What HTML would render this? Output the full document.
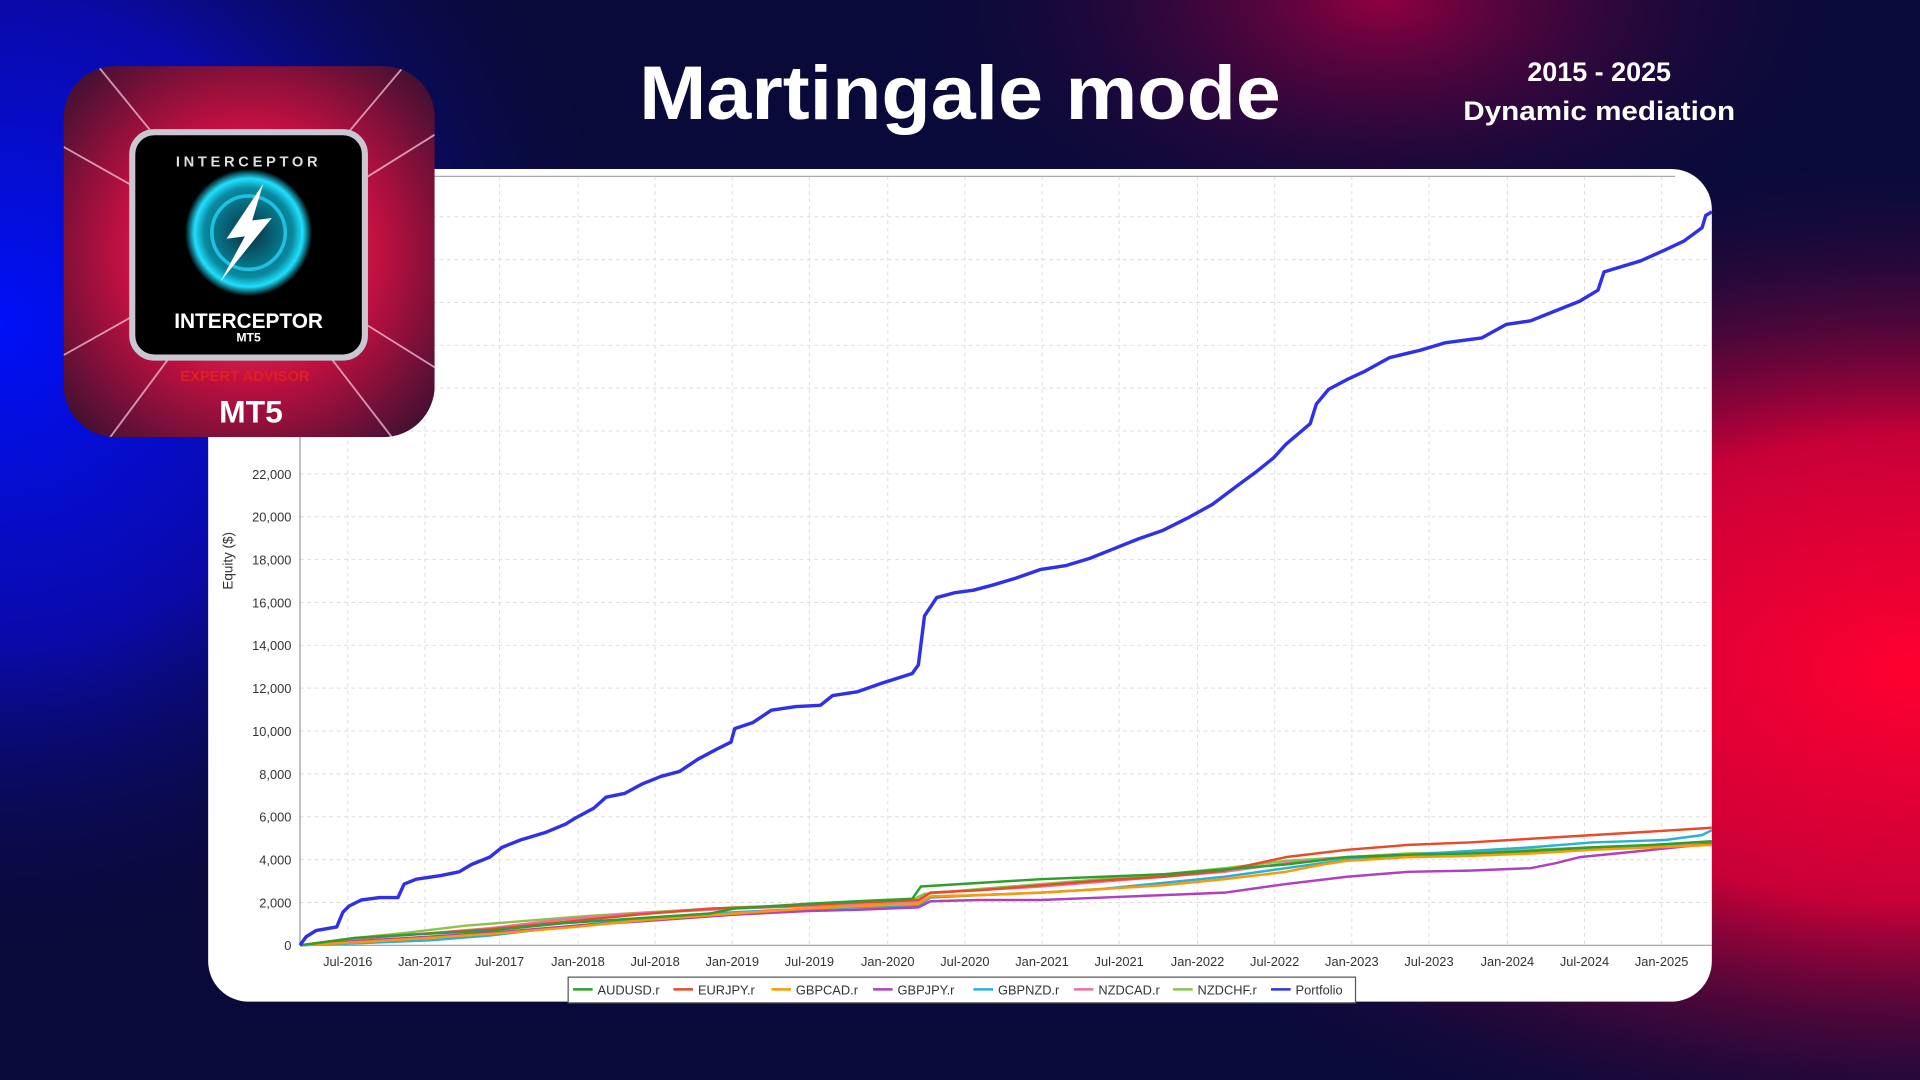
<!DOCTYPE html>
<html><head><meta charset="utf-8"><style>
html,body{margin:0;padding:0;width:1920px;height:1080px;overflow:hidden;background:#0a0a3a}
svg{display:block}
text{font-family:"Liberation Sans",sans-serif}
</style></head><body>
<svg width="1920" height="1080" viewBox="0 0 1568 882" xmlns="http://www.w3.org/2000/svg">
<defs>
<radialGradient id="gb" cx="0" cy="0.3" r="0.6" gradientTransform="scale(0.55,1)">
<stop offset="0" stop-color="#0010f8"/><stop offset="0.5" stop-color="#0a0aa8"/><stop offset="1" stop-color="#0a0a3a" stop-opacity="0"/></radialGradient>
<radialGradient id="gr" cx="1" cy="0.62" r="0.48">
<stop offset="0" stop-color="#ff0030"/><stop offset="0.45" stop-color="#c80038"/><stop offset="1" stop-color="#0a0a3a" stop-opacity="0"/></radialGradient>
<radialGradient id="gr2" cx="0.72" cy="0" r="0.25">
<stop offset="0" stop-color="#900040"/><stop offset="1" stop-color="#0a0a3a" stop-opacity="0"/></radialGradient>
<radialGradient id="lg" cx="0.5" cy="0.5" r="0.7">
<stop offset="0" stop-color="#ff5080"/><stop offset="0.5" stop-color="#c01040"/><stop offset="1" stop-color="#301030"/></radialGradient>
<radialGradient id="ring" cx="0.5" cy="0.5" r="0.5">
<stop offset="0" stop-color="#053040"/><stop offset="0.7" stop-color="#0a8aa0"/><stop offset="0.85" stop-color="#20e0ff"/><stop offset="1" stop-color="#000"/></radialGradient>
<clipPath id="logo"><rect x="52" y="54" width="303" height="303" rx="42"/></clipPath>
</defs>
<rect width="1568" height="882" fill="#0a0a3a"/>
<rect width="1568" height="882" fill="url(#gb)"/>
<rect width="1568" height="882" fill="url(#gr2)"/>
<rect width="1568" height="882" fill="url(#gr)"/>

<!-- card -->
<rect x="170" y="138" width="1228" height="680" rx="33" fill="#fff"/>
<g stroke="#ddd" stroke-width="0.8" stroke-dasharray="3,3">
<line x1="245" y1="737" x2="1398" y2="737"/><line x1="245" y1="702" x2="1398" y2="702"/><line x1="245" y1="667" x2="1398" y2="667"/><line x1="245" y1="632" x2="1398" y2="632"/><line x1="245" y1="597" x2="1398" y2="597"/><line x1="245" y1="562" x2="1398" y2="562"/><line x1="245" y1="527" x2="1398" y2="527"/><line x1="245" y1="492" x2="1398" y2="492"/><line x1="245" y1="457" x2="1398" y2="457"/><line x1="245" y1="422" x2="1398" y2="422"/><line x1="245" y1="387" x2="1398" y2="387"/><line x1="245" y1="352" x2="1398" y2="352"/><line x1="245" y1="317" x2="1398" y2="317"/><line x1="245" y1="282" x2="1398" y2="282"/><line x1="245" y1="247" x2="1398" y2="247"/><line x1="245" y1="212" x2="1398" y2="212"/><line x1="245" y1="177" x2="1390" y2="177"/>
</g>
<g stroke="#ddd" stroke-width="0.8" stroke-dasharray="3,3">
<line x1="284" y1="144" x2="284" y2="772"/><line x1="347" y1="144" x2="347" y2="772"/><line x1="408" y1="144" x2="408" y2="772"/><line x1="472" y1="144" x2="472" y2="772"/><line x1="535" y1="144" x2="535" y2="772"/><line x1="598" y1="144" x2="598" y2="772"/><line x1="661" y1="144" x2="661" y2="772"/><line x1="725" y1="144" x2="725" y2="772"/><line x1="788" y1="144" x2="788" y2="772"/><line x1="851" y1="144" x2="851" y2="772"/><line x1="914" y1="144" x2="914" y2="772"/><line x1="978" y1="144" x2="978" y2="772"/><line x1="1041" y1="144" x2="1041" y2="772"/><line x1="1104" y1="144" x2="1104" y2="772"/><line x1="1167" y1="144" x2="1167" y2="772"/><line x1="1231" y1="144" x2="1231" y2="772"/><line x1="1294" y1="144" x2="1294" y2="772"/><line x1="1357" y1="144" x2="1357" y2="772"/>
</g>
<line x1="245" y1="144" x2="1368" y2="144" stroke="#aaa" stroke-width="1"/>
<line x1="245" y1="144" x2="245" y2="772" stroke="#999" stroke-width="1"/>
<line x1="245" y1="772" x2="1398" y2="772" stroke="#999" stroke-width="1"/>

<g font-size="10.5" fill="#333" text-anchor="end">
<text x="238" y="776">0</text><text x="238" y="741">2,000</text><text x="238" y="706">4,000</text><text x="238" y="671">6,000</text><text x="238" y="636">8,000</text><text x="238" y="601">10,000</text><text x="238" y="566">12,000</text><text x="238" y="531">14,000</text><text x="238" y="496">16,000</text><text x="238" y="461">18,000</text><text x="238" y="426">20,000</text><text x="238" y="391">22,000</text>
</g>
<text x="190" y="458" font-size="11" fill="#333" text-anchor="middle" transform="rotate(-90 190 458)">Equity ($)</text>
<g font-size="10.5" fill="#333" text-anchor="middle">
<text x="284" y="789">Jul-2016</text><text x="347" y="789">Jan-2017</text><text x="408" y="789">Jul-2017</text><text x="472" y="789">Jan-2018</text><text x="535" y="789">Jul-2018</text><text x="598" y="789">Jan-2019</text><text x="661" y="789">Jul-2019</text><text x="725" y="789">Jan-2020</text><text x="788" y="789">Jul-2020</text><text x="851" y="789">Jan-2021</text><text x="914" y="789">Jul-2021</text><text x="978" y="789">Jan-2022</text><text x="1041" y="789">Jul-2022</text><text x="1104" y="789">Jan-2023</text><text x="1167" y="789">Jul-2023</text><text x="1231" y="789">Jan-2024</text><text x="1294" y="789">Jul-2024</text><text x="1357" y="789">Jan-2025</text>
</g>

<!-- pair series -->
<g fill="none" stroke-width="2" stroke-linejoin="round">
<polyline stroke="#8bc34a" points="245,772 290,766 330,762 380,756 430,752 480,748 530,745 600,741 660,739 700,738 745,735 755,730 800,726 850,722 900,718 950,714 1000,709 1050,703 1100,700 1150,697 1200,696 1250,694 1300,692 1350,690 1398,688"/>
<polyline stroke="#ef6fa0" points="245,772 290,767 340,763 400,758 460,751 520,746 600,742 660,740 720,738 750,736 760,729 800,727 850,724 900,720 950,716 1000,712 1050,705 1100,700 1150,698 1200,697 1250,695 1300,692 1350,691 1398,690"/>
<polyline stroke="#29b0d8" points="245,772 300,770 350,768 400,764 460,757 520,751 580,746 640,743 700,741 750,740 760,733 800,731 850,729 900,726 950,721 1000,716 1050,709 1100,702 1150,698 1200,695 1250,692 1300,688 1360,686 1390,682 1398,678"/>
<polyline stroke="#b040c0" points="245,772 300,768 350,765 410,761 470,756 530,752 600,747 660,744 700,743 750,741 760,736 800,735 850,735 900,733 950,731 1000,729 1050,722 1100,716 1150,712 1200,711 1250,709 1270,705 1290,700 1330,696 1398,689"/>
<polyline stroke="#ff9800" points="245,772 300,769 350,766 410,762 470,757 530,751 600,746 660,742 700,740 750,738 760,732 800,731 850,729 900,726 950,723 1000,718 1050,712 1080,706 1100,703 1150,700 1200,699 1250,697 1300,694 1350,692 1398,690"/>
<polyline stroke="#e84a2a" points="245,772 290,766 340,763 400,759 460,753 520,747 580,742 640,740 700,737 750,735 760,729 800,727 850,723 900,719 950,716 1000,711 1050,700 1100,694 1150,690 1200,688 1250,685 1300,682 1350,679 1398,676"/>
<polyline stroke="#2ca02c" points="245,772 290,766 340,763 400,760 460,754 520,750 580,746 600,742 660,738 700,736 745,734 752,724 800,721 850,718 900,716 950,714 1000,710 1050,706 1100,700 1150,698 1200,697 1250,695 1300,692 1350,690 1398,687"/>
</g>
<!-- portfolio -->
<polyline fill="none" stroke="#3030e8" stroke-width="2.8" stroke-linejoin="round" points="245,772 250,765 258,760 275,757 280,745 285,740 295,735 310,733 325,733 330,722 340,718 360,715 375,712 385,706 400,700 410,692 425,686 445,680 462,673 470,668 485,660 495,651 510,648 525,640 540,634 555,630 570,620 585,612 597,606 600,595 615,590 630,580 650,577 670,576 680,568 700,565 720,558 745,550 750,543 755,503 765,488 780,484 795,482 810,478 830,472 850,465 870,462 890,456 910,448 930,440 950,433 970,423 990,412 1010,397 1025,386 1040,374 1050,363 1070,346 1075,330 1085,318 1100,310 1115,303 1135,292 1160,286 1180,280 1210,276 1230,265 1250,262 1270,254 1290,246 1305,237 1310,222 1340,213 1360,204 1375,197 1390,186 1393,176 1398,173"/>

<!-- legend -->
<rect x="464" y="798" width="643" height="21" fill="#fff" stroke="#555" stroke-width="1"/>
<g font-size="10.5" fill="#333" stroke-width="2">
<line x1="468" y1="808" x2="484" y2="808" stroke="#2ca02c"/><text x="488" y="812">AUDUSD.r</text>
<line x1="550" y1="808" x2="566" y2="808" stroke="#e84a2a"/><text x="570" y="812">EURJPY.r</text>
<line x1="630" y1="808" x2="646" y2="808" stroke="#ff9800"/><text x="650" y="812">GBPCAD.r</text>
<line x1="713" y1="808" x2="729" y2="808" stroke="#b040c0"/><text x="733" y="812">GBPJPY.r</text>
<line x1="795" y1="808" x2="811" y2="808" stroke="#29b0d8"/><text x="815" y="812">GBPNZD.r</text>
<line x1="877" y1="808" x2="893" y2="808" stroke="#ef6fa0"/><text x="897" y="812">NZDCAD.r</text>
<line x1="958" y1="808" x2="974" y2="808" stroke="#8bc34a"/><text x="978" y="812">NZDCHF.r</text>
<line x1="1038" y1="808" x2="1054" y2="808" stroke="#3030e8"/><text x="1058" y="812">Portfolio</text>
</g>

<!-- titles -->
<text x="784" y="97" font-size="62" font-weight="bold" fill="#fff" text-anchor="middle" textLength="524" lengthAdjust="spacingAndGlyphs">Martingale mode</text>
<text x="1306" y="66" font-size="22" font-weight="bold" fill="#fff" text-anchor="middle">2015 - 2025</text>
<text x="1306" y="98" font-size="22" font-weight="bold" fill="#fff" text-anchor="middle" textLength="222" lengthAdjust="spacingAndGlyphs">Dynamic mediation</text>

<!-- logo -->
<g clip-path="url(#logo)">
<rect x="52" y="54" width="303" height="303" fill="url(#lg)"/>
<g stroke="#ffd0e0" stroke-width="1.5" opacity="0.7">
<line x1="203" y1="205" x2="52" y2="120"/><line x1="203" y1="205" x2="52" y2="290"/><line x1="203" y1="205" x2="355" y2="110"/><line x1="203" y1="205" x2="355" y2="300"/><line x1="203" y1="205" x2="90" y2="357"/><line x1="203" y1="205" x2="320" y2="357"/><line x1="203" y1="205" x2="80" y2="54"/><line x1="203" y1="205" x2="330" y2="54"/>
</g>
<rect x="108" y="108" width="190" height="184" rx="18" fill="#000" stroke="#c8c8d0" stroke-width="5"/>
<circle cx="203" cy="190" r="52" fill="url(#ring)"/>
<circle cx="203" cy="190" r="30" fill="none" stroke="#20c0e0" stroke-width="3"/>
<polygon points="215,150 185,195 200,193 180,230 222,178 206,180" fill="#fff"/>
<text x="203" y="136" font-size="12" font-weight="bold" fill="#ddd" text-anchor="middle" letter-spacing="3">INTERCEPTOR</text>
<text x="203" y="268" font-size="17" font-weight="bold" fill="#fff" text-anchor="middle">INTERCEPTOR</text>
<text x="203" y="279" font-size="10" font-weight="bold" fill="#fff" text-anchor="middle">MT5</text>
<text x="200" y="311" font-size="12" font-weight="bold" fill="#e02020" text-anchor="middle">EXPERT ADVISOR</text>
<text x="205" y="345" font-size="26" font-weight="bold" fill="#fff" text-anchor="middle">MT5</text>
</g>
</svg>
</body></html>
